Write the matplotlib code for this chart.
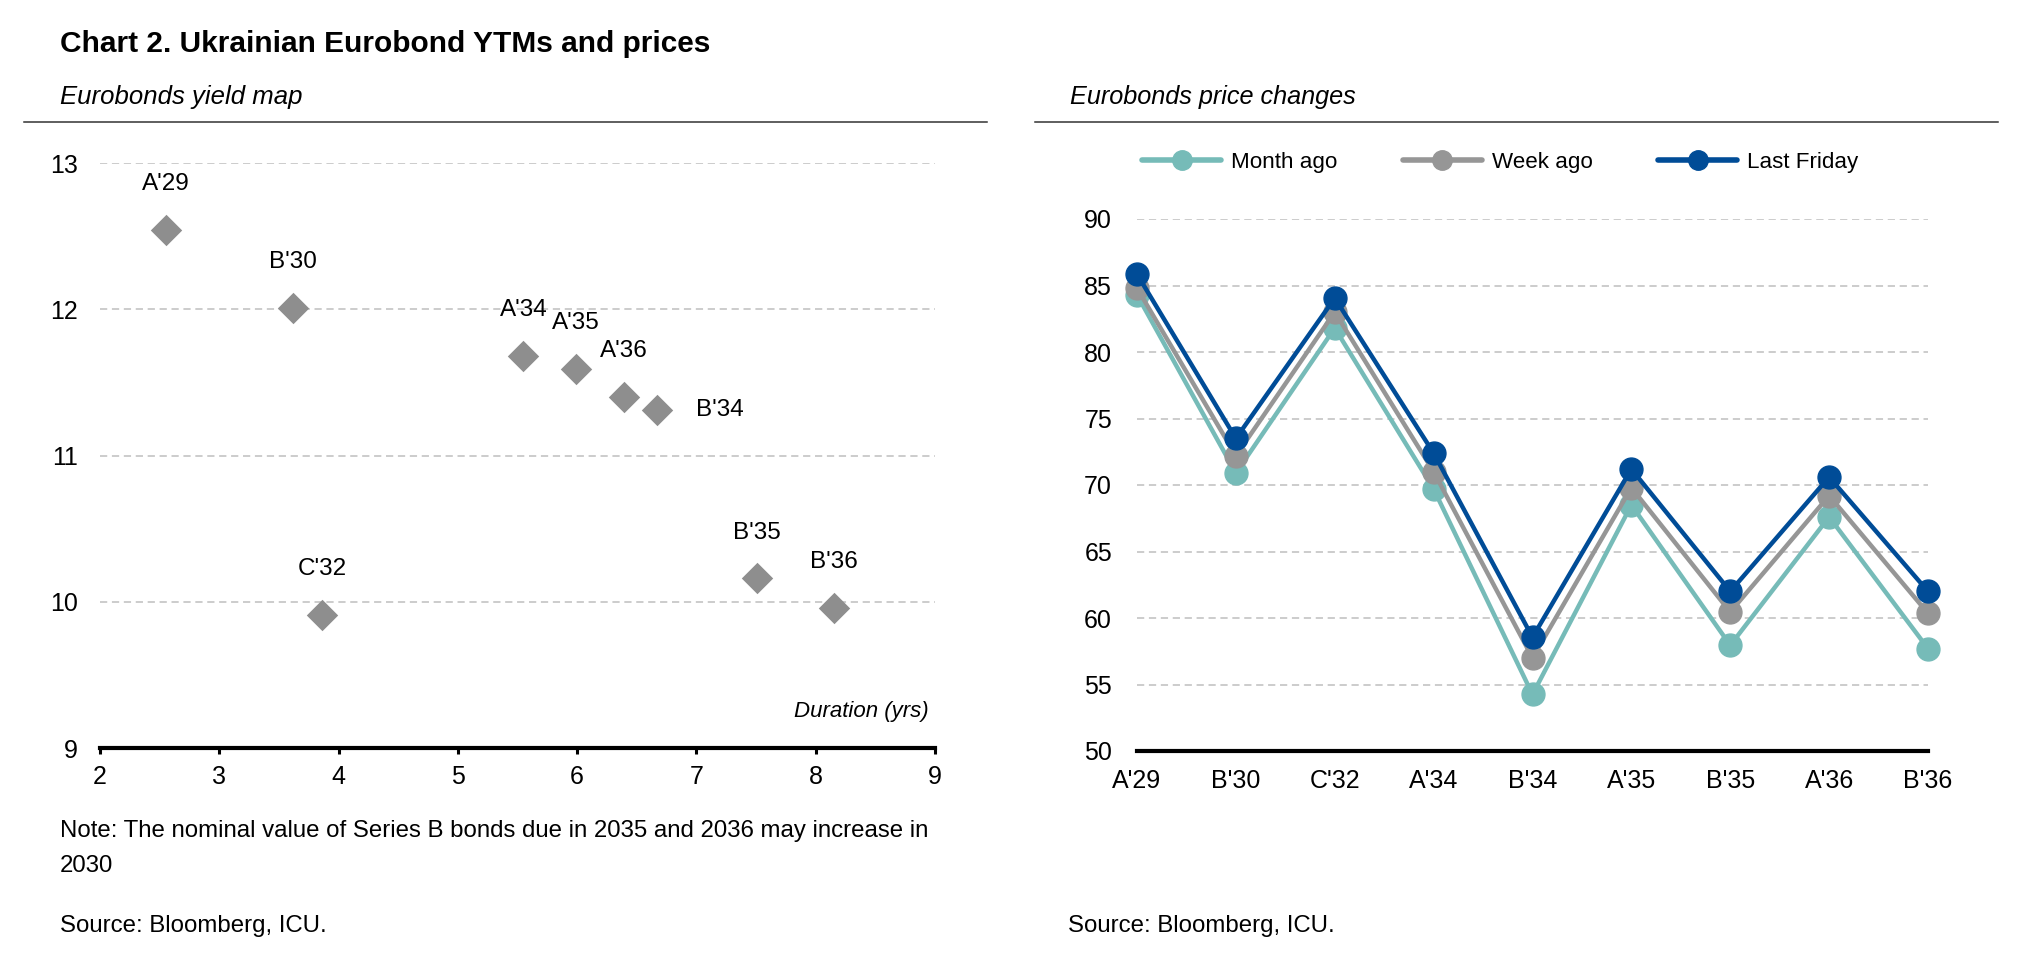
import matplotlib
matplotlib.use("Agg")
import matplotlib.pyplot as plt
import matplotlib.font_manager as fm
from matplotlib.lines import Line2D

# fonts: narrow sans if installed
avail = {f.name for f in fm.fontManager.ttflist}
if 'Liberation Sans Narrow' in avail:
    fam = 'Liberation Sans Narrow'
    k = 1.0
else:
    fam = 'Liberation Sans'
    k = 0.9   # regular width font is wider, shrink a bit
plt.rcParams['font.family'] = [fam, 'DejaVu Sans']

# ---- data: yield map ----
yield_bonds = ["A'29", "B'30", "C'32", "A'34", "A'35", "A'36", "B'34", "B'35", "B'36"]
duration = [2.55, 3.62, 3.86, 5.55, 5.99, 6.39, 6.67, 7.51, 8.15]
ytm = [12.54, 12.01, 9.91, 11.68, 11.59, 11.40, 11.31, 10.16, 9.96]

# ---- data: prices ----
price_bonds = ["A'29", "B'30", "C'32", "A'34", "B'34", "A'35", "B'35", "A'36", "B'36"]
month_ago = [84.3, 70.9, 81.8, 69.7, 54.25, 68.5, 57.95, 67.6, 57.7]
week_ago = [84.8, 72.2, 83.0, 71.0, 57.0, 69.8, 60.45, 69.2, 60.35]
last_friday = [85.85, 73.5, 84.05, 72.4, 58.55, 71.2, 62.0, 70.6, 62.0]

W, H = 2023, 964
fig = plt.figure(figsize=(W/100, H/100), dpi=100)

def fx(px):
    return px / W
def fy(py):
    return 1 - py / H

teal = '#76BBB8'
grey = '#969696'
blue = '#004C97'
dgrey = '#8E8E8E'
gridc = '#C8C8C8'
tick_fs = 18

# titles and rules
fig.text(fx(60), fy(52), "Chart 2. Ukrainian Eurobond YTMs and prices",
         fontsize=21.5, fontweight='bold', va='baseline', ha='left')
fig.text(fx(60), fy(104), "Eurobonds yield map", fontsize=21*k*0.98, style='italic',
         va='baseline', ha='left')
fig.text(fx(1070), fy(104), "Eurobonds price changes", fontsize=21*k*0.96, style='italic',
         va='baseline', ha='left')
fig.add_artist(Line2D([fx(24), fx(987)], [fy(122), fy(122)], color='#333333', lw=1.1))
fig.add_artist(Line2D([fx(1035), fx(1998)], [fy(122), fy(122)], color='#333333', lw=1.1))

# ---- left: yield map ----
ax1 = fig.add_axes([fx(100), fy(748), fx(935) - fx(100), fy(163) - fy(748)])
ax1.scatter(duration, ytm, marker='D', s=16**2, color=dgrey, zorder=3,
            linewidths=0, clip_on=False)
for name, x, y in zip(yield_bonds, duration, ytm):
    if name == "B'34":
        off = (45, 0)
    else:
        off = (0, 33)
    ax1.annotate(name, (x, y), xytext=off, textcoords='offset points',
                 ha='center', va='center', fontsize=17.5)
ax1.set_xlim(2, 9)
ax1.set_ylim(9, 13)
ax1.set_xticks(range(2, 10))
ax1.set_yticks(range(9, 14))
for v in [10, 11, 12, 13]:
    ax1.axhline(v, color=gridc, lw=1.3, ls=(0, (4, 2.6)), zorder=1)
for s in ['top', 'right', 'left']:
    ax1.spines[s].set_visible(False)
ax1.spines['bottom'].set_linewidth(3)
ax1.tick_params(axis='x', direction='out', length=4.5, width=2.2, pad=8, labelsize=tick_fs)
ax1.tick_params(axis='y', length=0, pad=16, labelsize=tick_fs)
ax1.text(8.95, 9.25, "Duration (yrs)", style='italic', fontsize=16, ha='right', va='center')

# ---- right: prices ----
ax2 = fig.add_axes([fx(1137), fy(751), fx(1928) - fx(1137), fy(219) - fy(751)])
xs = list(range(len(price_bonds)))
ax2.plot(xs, month_ago, color=teal, lw=3.2, marker='o', ms=16.5, clip_on=False,
         zorder=3, label='Month ago')
ax2.plot(xs, week_ago, color=grey, lw=3.2, marker='o', ms=16.5, clip_on=False,
         zorder=4, label='Week ago')
ax2.plot(xs, last_friday, color=blue, lw=3.2, marker='o', ms=16.5, clip_on=False,
         zorder=5, label='Last Friday')
ax2.set_xlim(0, 8)
ax2.set_ylim(50, 90)
ax2.set_xticks(xs)
ax2.set_xticklabels(price_bonds)
ax2.set_yticks(range(50, 91, 5))
for v in range(55, 91, 5):
    ax2.axhline(v, color=gridc, lw=1.3, ls=(0, (4, 2.6)), zorder=1)
for s in ['top', 'right', 'left']:
    ax2.spines[s].set_visible(False)
ax2.spines['bottom'].set_linewidth(3)
ax2.tick_params(axis='x', length=0, pad=13, labelsize=tick_fs)
ax2.tick_params(axis='y', length=0, pad=18, labelsize=tick_fs)

leg_fs = 16.1
handles = [Line2D([0], [0], color=c, lw=4, marker='o', ms=14, solid_capstyle='round')
           for c in [teal, grey, blue]]
fig.legend(handles, ['Month ago', 'Week ago', 'Last Friday'], loc='center left',
           bbox_to_anchor=(fx(1142), fy(162)), ncol=3, frameon=False, fontsize=leg_fs,
           handlelength=3.55, handletextpad=0.45, columnspacing=2.9,
           borderpad=0, borderaxespad=0)

# notes
note_fs = 17.3
fig.text(fx(60), fy(837), "Note: The nominal value of Series B bonds due in 2035 and 2036 may increase in",
         fontsize=note_fs, va='baseline', ha='left')
fig.text(fx(60), fy(872), "2030", fontsize=note_fs, va='baseline', ha='left')
fig.text(fx(60), fy(932), "Source: Bloomberg, ICU.", fontsize=note_fs, va='baseline', ha='left')
fig.text(fx(1068), fy(932), "Source: Bloomberg, ICU.", fontsize=note_fs, va='baseline', ha='left')

fig.savefig('out.png', dpi=100)
